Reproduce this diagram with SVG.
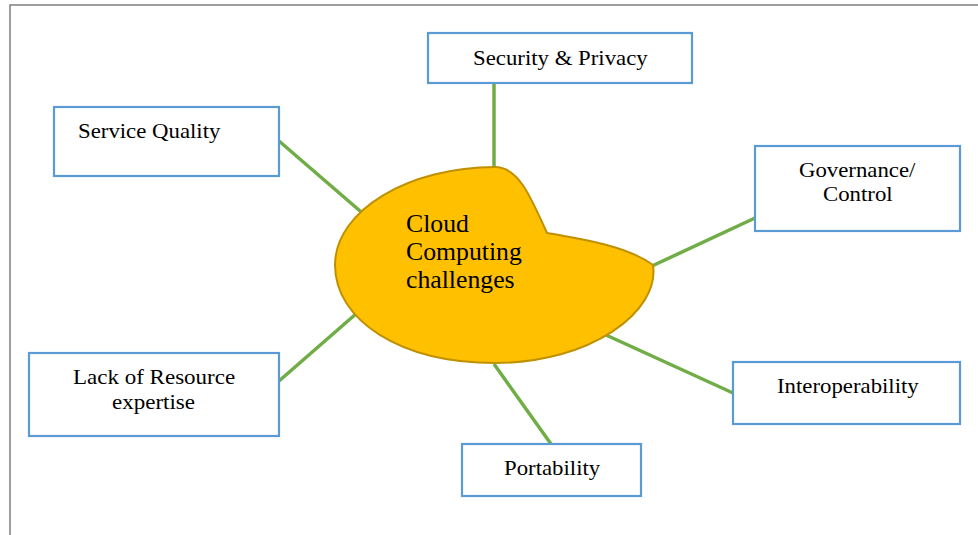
<svg xmlns="http://www.w3.org/2000/svg" width="978" height="535" viewBox="0 0 978 535">
<style>
.box{fill:#fff;stroke:#5B9BD5;stroke-width:2.2}
.ln{stroke:#70AD47;stroke-width:3.5;fill:none}
</style>
<rect width="978" height="535" fill="#fff"/>
<path d="M10,535 V5 H978" fill="none" stroke="#7f7f7f" stroke-width="1.5"/>
<g id="connectors">
<line class="ln" x1="494" y1="83" x2="494" y2="168"/>
<line class="ln" x1="279" y1="141" x2="367" y2="217"/>
<line class="ln" x1="755" y1="218" x2="652" y2="266"/>
<line class="ln" x1="279" y1="381" x2="357" y2="313"/>
<line class="ln" x1="733" y1="393" x2="606" y2="335"/>
<line class="ln" x1="551" y1="444" x2="494" y2="364"/>
</g>
<g id="center">
<path d="M495,167 C518,167 530,195 547,233 C590,240 630,248 653,265 C660,312 590,363 495,363 C400,363 335,320 335,265 C335,210 410,167 495,167 Z" fill="#FFC000" stroke="#BF9000" stroke-width="2"/>
<text transform="translate(406,232) scale(1.03,1)" font-family="Liberation Serif" font-size="25">Cloud</text>
<text transform="translate(406,260) scale(1.03,1)" font-family="Liberation Serif" font-size="25">Computing</text>
<text transform="translate(406,288) scale(1.03,1)" font-family="Liberation Serif" font-size="25">challenges</text>
</g>
<g id="security">
<rect class="box" x="428" y="33" width="264" height="50"/>
<text transform="translate(473,65) scale(1.14,1)" font-family="Liberation Serif" font-size="20">Security &amp; Privacy</text>
</g>
<g id="service">
<rect class="box" x="54" y="107" width="225" height="69"/>
<text transform="translate(78,138) scale(1.14,1)" font-family="Liberation Serif" font-size="20">Service Quality</text>
</g>
<g id="governance">
<rect class="box" x="755" y="146" width="205" height="85"/>
<text transform="translate(799,177) scale(1.14,1)" font-family="Liberation Serif" font-size="20">Governance/</text>
<text transform="translate(823,201) scale(1.14,1)" font-family="Liberation Serif" font-size="20">Control</text>
</g>
<g id="lack">
<rect class="box" x="29" y="353" width="250" height="83"/>
<text transform="translate(73,384) scale(1.15,1)" font-family="Liberation Serif" font-size="20">Lack of Resource</text>
<text transform="translate(112,409) scale(1.15,1)" font-family="Liberation Serif" font-size="20">expertise</text>
</g>
<g id="interop">
<rect class="box" x="733" y="362" width="227" height="62"/>
<text transform="translate(777,393) scale(1.14,1)" font-family="Liberation Serif" font-size="20">Interoperability</text>
</g>
<g id="portability">
<rect class="box" x="462" y="444" width="179" height="52"/>
<text transform="translate(504,475) scale(1.14,1)" font-family="Liberation Serif" font-size="20">Portability</text>
</g>
</svg>
